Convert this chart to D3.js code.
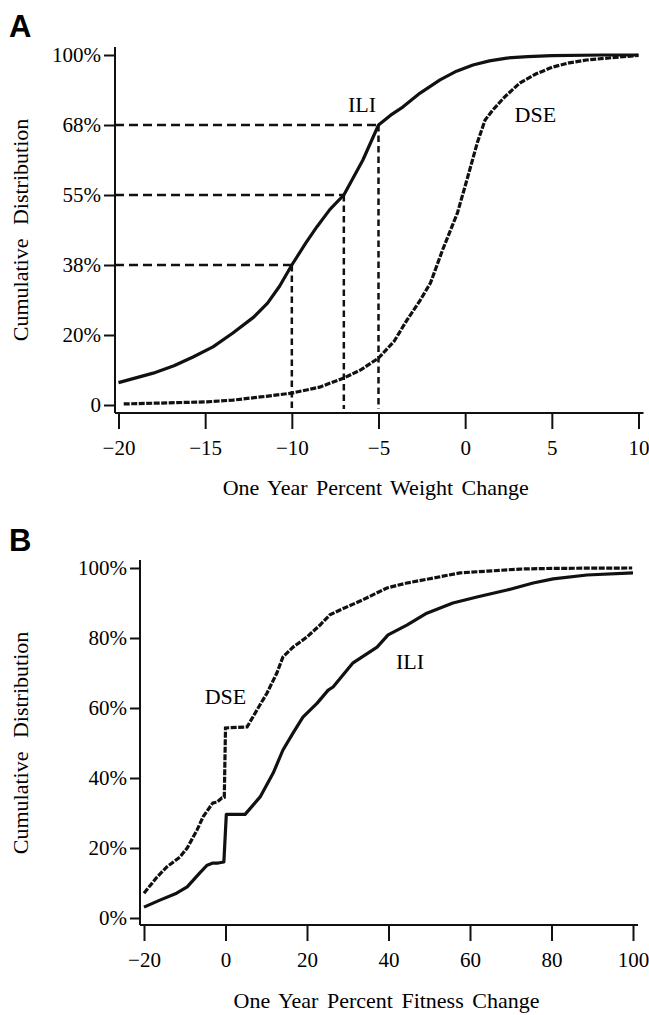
<!DOCTYPE html>
<html>
<meta charset="utf-8">
<style>
  body { margin: 0; background: #fff; }
  svg { width: 649px; height: 1015px; display: block; }
  text { font-family: "Liberation Serif", serif; fill: #000; }
  .panel-letter { font-family: "Liberation Sans", Arial, sans-serif; font-weight: bold; }
</style>

<body>
  <svg></svg>
</body>

<script src="https://cdn.jsdelivr.net/npm/d3@7"></script>

<script>

  // panel A: weight change
  var weightTicks = [-20, -15, -10, -5, 0, 5, 10];
  var weightYTicks = [0, 20, 38, 55, 68, 100];
  var weightYLabels = ["0", "20%", "38%", "55%", "68%", "100%"];

  var iliWeight = [[-20, 6.4], [-18, 9.1], [-16.8, 11.2], [-15.7, 13.7], [-14.55, 16.6], [-13.4, 20.5],
    [-12.2, 24.6], [-11.4, 28.2], [-10.7, 32.6], [-10, 38], [-9.2, 43.3], [-8.55, 47.3], [-7.8, 51.5],
    [-7, 55], [-5.9, 61.5], [-5, 68], [-4.3, 72.5], [-3.6, 76.2], [-2.6, 82.6], [-1.45, 88.6],
    [-0.5, 92.6], [0.45, 95.4], [1.4, 97.3], [2.4, 98.6], [3.6, 99.3], [5, 99.7], [8, 100], [10, 100]];

  var dseWeight = [[-19.7, 0.3], [-17.2, 0.6], [-14.9, 0.9], [-13.4, 1.4], [-11.8, 2.3], [-10, 3.4],
    [-8.4, 5.1], [-7, 7.7], [-6, 10.1], [-5, 13.4], [-4.1, 18.2], [-3.35, 23.9], [-2.6, 28.9],
    [-2, 33.4], [-1.3, 41.7], [-0.45, 50.6], [0.1, 57.8], [0.7, 64.7], [1.15, 70.3], [1.6, 74.9],
    [2.3, 81], [3.15, 87.2], [4.1, 91.4], [5.05, 94.5], [6, 96.4], [7, 97.7], [8.9, 99.1], [10, 99.8]];

  // dashed read-off lines on the ILI curve
  var guideX = [-10, -7, -5];
  var guideY = [38, 55, 68];

  // panel B: fitness change
  var fitnessTicks = [-20, 0, 20, 40, 60, 80, 100];
  var fitnessYTicks = [0, 20, 40, 60, 80, 100];
  var fitnessYLabels = ["0%", "20%", "40%", "60%", "80%", "100%"];

  var iliFitness = [[-20, 3.1], [-16.1, 5.1], [-12, 7.1], [-9.4, 8.9], [-6.3, 12.9], [-4.5, 15.1],
    [-3.1, 15.7], [-1.8, 15.7], [-0.4, 16], [0.2, 29.6], [4.8, 29.6], [8.5, 34.6], [11.7, 41.4],
    [14.1, 48], [16.6, 52.9], [19, 57.4], [22.5, 61.4], [25.2, 65.1], [26.4, 66], [31.3, 72.9],
    [37.2, 77.4], [39.9, 80.9], [44.5, 83.7], [49.4, 87.1], [55.8, 90], [61.7, 91.7], [69.1, 93.7],
    [75.5, 95.7], [80.4, 96.9], [88.7, 98], [100, 98.6]];

  var dseFitness = [[-20, 7.1], [-16.8, 11.7], [-14.4, 14.6], [-11.2, 17.4], [-9.4, 20], [-7, 25.1],
    [-5.5, 28.9], [-3.1, 32.9], [-2.1, 33.1], [-0.9, 34.3], [-0.3, 34.5], [0, 54.3], [5.3, 54.6],
    [7.7, 59.4], [10.2, 64.3], [12.6, 70], [14.1, 74.6], [16.6, 77.4], [20, 80.3], [23.2, 83.7],
    [25.6, 86.6], [28.1, 88], [33.7, 90.9], [39.6, 94.3], [44.5, 95.7], [50.9, 97.1], [57.5, 98.6],
    [64.2, 99.1], [72.3, 99.7], [80.4, 99.9], [99.8, 100]];

  var svg = d3.select("svg").attr("viewBox", "0 0 649 1015");

  function drawPanel(p) {
    var g = svg.append("g");

    var x = d3.scaleLinear().domain(d3.extent(p.xTicks)).range([p.xLeft, p.xRight]);
    // the y ticks sit at equal spacing whatever their value
    var step = (p.yBottom - p.yTop) / (p.yTicks.length - 1);
    var y = d3.scaleLinear().domain(p.yTicks).range(p.yTicks.map(function(d, i) { return p.yBottom - i * step; }));

    // axis lines
    g.append("line").attr("x1", p.axisX).attr("x2", p.axisX).attr("y1", p.yTop - 8).attr("y2", p.axisY)
      .attr("stroke", "#111").attr("stroke-width", 2);
    g.append("line").attr("x1", p.axisX).attr("x2", p.xRight + 5).attr("y1", p.axisY).attr("y2", p.axisY)
      .attr("stroke", "#111").attr("stroke-width", 2);

    var yAxis = d3.axisLeft(y).tickValues(p.yTicks).tickSize(p.yTickLen).tickPadding(3)
      .tickFormat(function(d, i) { return p.yLabels[i]; });
    var ya = g.append("g").attr("transform", "translate(" + p.axisX + ",0)").call(yAxis);

    var xAxis = d3.axisBottom(x).tickValues(p.xTicks).tickSize(16).tickPadding(11);
    var xa = g.append("g").attr("transform", "translate(0," + p.axisY + ")").call(xAxis);

    [ya, xa].forEach(function(a) {
      a.select(".domain").remove();
      a.selectAll(".tick line").attr("stroke", "#111").attr("stroke-width", 2);
      a.selectAll(".tick text").attr("font-family", "Liberation Serif").attr("font-size", 21).attr("fill", "#000");
    });

    // axis titles
    g.append("text").attr("x", (p.axisX + p.xRight) / 2 + p.titleShift).attr("y", p.titleY)
      .attr("text-anchor", "middle").attr("font-size", 22).attr("word-spacing", 3).text(p.xTitle);
    g.append("text").attr("transform", "translate(28," + (p.yTop + p.yBottom) / 2 + ") rotate(-90)")
      .attr("text-anchor", "middle").attr("font-size", 22).attr("word-spacing", 8).text("Cumulative Distribution");

    g.append("text").attr("class", "panel-letter").attr("x", 9).attr("y", p.letterY)
      .attr("font-size", 31).text(p.letter);

    var line = d3.line().x(function(d) { return x(d[0]); }).y(function(d) { return y(d[1]); });

    if (p.guideX) {
      p.guideX.forEach(function(gx, i) {
        g.append("line").attr("x1", p.axisX).attr("x2", x(gx)).attr("y1", y(p.guideY[i])).attr("y2", y(p.guideY[i]))
          .attr("stroke", "#111").attr("stroke-width", 2.5).attr("stroke-dasharray", "9,5");
        g.append("line").attr("x1", x(gx)).attr("x2", x(gx)).attr("y1", y(p.guideY[i])).attr("y2", y(0) + 4)
          .attr("stroke", "#111").attr("stroke-width", 2.5).attr("stroke-dasharray", "6.5,4");
      });
    }

    g.append("path").datum(p.dse).attr("d", line).attr("fill", "none").attr("stroke", "#111")
      .attr("stroke-width", 3.2).attr("stroke-dasharray", "6,1.5");
    g.append("path").datum(p.ili).attr("d", line).attr("fill", "none").attr("stroke", "#111")
      .attr("stroke-width", 3.2).attr("stroke-linejoin", "round");

    p.labels.forEach(function(l) {
      g.append("text").attr("x", x(l.at[0])).attr("y", y(l.at[1])).attr("text-anchor", "middle")
        .attr("font-size", 22).text(l.text);
    });
  }

  drawPanel({
    letter: "A", letterY: 37,
    xTicks: weightTicks, yTicks: weightYTicks, yLabels: weightYLabels,
    xLeft: 118.5, xRight: 638.5, yTop: 55, yBottom: 405, axisX: 115, axisY: 413, yTickLen: 11,
    titleY: 495, titleShift: -1, xTitle: "One Year Percent Weight Change",
    ili: iliWeight, dse: dseWeight, guideX: guideX, guideY: guideY,
    labels: [{ text: "ILI", at: [-5.95, 74] }, { text: "DSE", at: [4.05, 69.4] }]
  });

  drawPanel({
    letter: "B", letterY: 551,
    xTicks: fitnessTicks, yTicks: fitnessYTicks, yLabels: fitnessYLabels,
    xLeft: 144, xRight: 633, yTop: 568, yBottom: 918, axisX: 140, axisY: 925, yTickLen: 10,
    titleY: 1008, titleShift: 0, xTitle: "One Year Percent Fitness Change",
    ili: iliFitness, dse: dseFitness,
    labels: [{ text: "DSE", at: [0, 61.1] }, { text: "ILI", at: [45.3, 71.1] }]
  });

</script>

</html>
